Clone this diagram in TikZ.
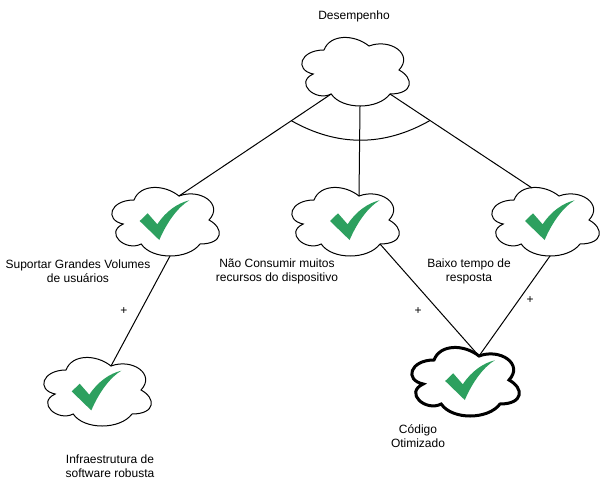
\documentclass[tikz,border=0pt]{standalone}
\usepackage{fontspec}
\usepackage{xcolor}
\usepackage{tikz}
\setmainfont{Liberation Sans}
\definecolor{mygreen}{RGB}{45,160,95}

\begin{document}
\begin{tikzpicture}[
    x=0.75pt, y=-0.75pt, line width=0.75pt,
    lbl/.style={align=center, font=\fontsize{9}{10.5}\selectfont, inner sep=0pt},
    heavy/.style={line width=2.25pt},
    cloudpic/.pic={
        \path[draw, fill=white, pic actions] (-30,-20)
            .. controls (-54,-20) and (-60,0) .. (-40.8,4)
            .. controls (-60,12.8) and (-38.4,32) .. (-22.8,24)
            .. controls (-12,40) and (24,40) .. (36,24)
            .. controls (60,24) and (60,8) .. (45,0)
            .. controls (60,-16) and (36,-32) .. (15,-24)
            .. controls (0,-36) and (-24,-36) .. (-30,-20) -- cycle;
        \coordinate (-p) at (15,-24);
        \coordinate (-l) at (-22.8,24);
        \coordinate (-r) at (36,24);
        \coordinate (-b) at (6,36);
        \coordinate (-t) at (-12,-32);
    },
    checkpic/.pic={
        \fill[mygreen] (-24.3,1) -- (-16.3,-6.7) -- (-6.7,4.3)
            .. controls (2,-9) and (14,-17) .. (25.3,-19.7)
            .. controls (14,-13) and (3,2) .. (-4.7,20) -- cycle;
    }]
\useasboundingbox (0,0) rectangle (605,481);
\pic (des) at (354,70) {cloudpic};
\pic (sup) at (164,220) {cloudpic};
\pic (nao) at (344,220) {cloudpic};
\pic (bai) at (544,220) {cloudpic};
\pic (inf) at (96,390) {cloudpic};
\pic[heavy] (cod) at (464,380) {cloudpic};
\pic at (164,220) {checkpic};
\pic at (354.3,220) {checkpic};
\pic at (549.3,220) {checkpic};
\pic at (96,390.4) {checkpic};
\pic at (469.5,380) {checkpic};
\draw (des-l) -- (sup-p);
\draw (des-b) -- (nao-p);
\draw (des-r) -- (bai-t);
\draw (sup-b) -- (inf-p);
\draw (nao-r) -- (cod-p);
\draw (bai-b) -- (cod-p);
\coordinate (arcl) at (291,120.5);
\coordinate (arcr) at (430,120.5);
\coordinate (arca) at (337.3,146.8);
\coordinate (arcb) at (383.7,146.8);
\draw (arcl) .. controls (arca) and (arcb) .. (arcr);
\node[lbl] (tdes) at (354,16) {Desempenho};
\node[lbl] (tsup) at (78,271) {Suportar Grandes Volumes\\de usuários};
\node[lbl] (tnao) at (277,271) {Não Consumir muitos\\recursos do dispositivo};
\node[lbl] (tbai) at (469,271) {Baixo tempo de\\resposta};
\node[lbl] (tinf) at (110,466) {Infraestrutura de\\software robusta};
\node[lbl] (tcod) at (418,436) {Código\\Otimizado};
\node[lbl] (pinf) at (124,311) {+};
\node[lbl] (pnao) at (418,311) {+};
\node[lbl] (pbai) at (530,300) {+};
\end{tikzpicture}
\end{document}
